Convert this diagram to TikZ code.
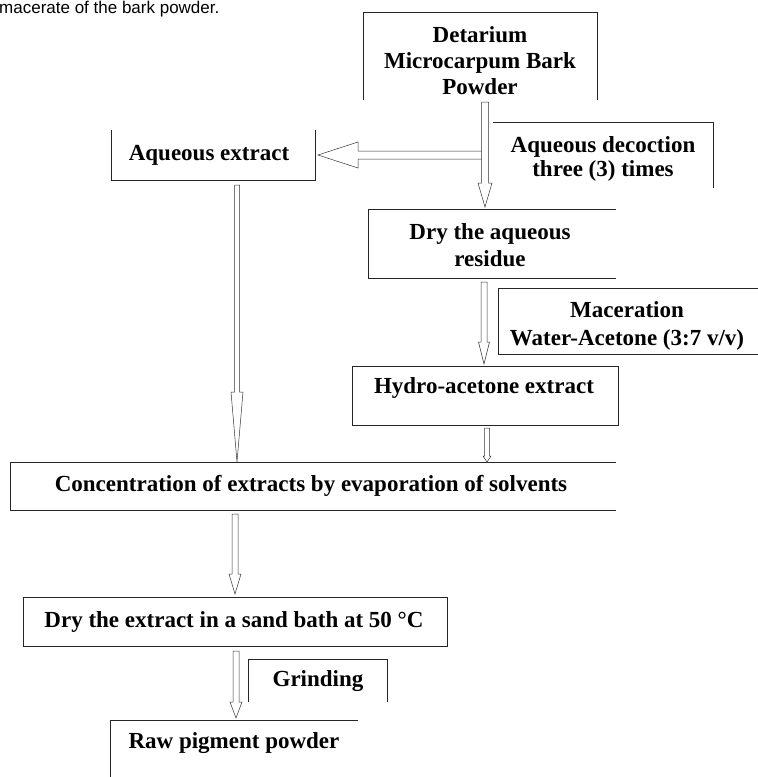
\documentclass[tikz,border=0pt]{standalone}
\usepackage{fontspec}
\setmainfont{Liberation Serif}
\newfontfamily\arialf{Liberation Sans}
\usetikzlibrary{calc}
% block arrow: #1 start, #2 tip, #3 half shaft, #4 half head, #5 head length
\newcommand\blockarr[5]{%
  \path ($(#2)!#5pt!(#1)$) coordinate (bh);
  \draw[arrowline] ($(#1)!#3pt!90:(#2)$) -- ($(bh)!#3pt!90:(#2)$) -- ($(bh)!#4pt!90:(#2)$) -- (#2)
    -- ($(bh)!#4pt!-90:(#2)$) -- ($(bh)!#3pt!-90:(#2)$) -- ($(#1)!#3pt!-90:(#2)$) -- cycle;
}
\begin{document}
\begin{tikzpicture}[x=1pt,y=-1pt,
  frame/.style={inner sep=0pt,outer sep=0pt},
  lbl/.style={inner sep=0pt,align=center,font=\bfseries\fontsize{23}{26}\selectfont},
  edge/.style={line width=0.7pt,draw=black!85},
  arrowline/.style={line width=0.5pt,draw=black!80,fill=white,line join=miter}]
\useasboundingbox (0,0) rectangle (758,777);

\node[anchor=base west,inner sep=0pt,font=\arialf\fontsize{17}{20}\selectfont] (top) at (-1,13) {macerate of the bark powder.};

% frames
\node[frame,minimum width=234pt,minimum height=88pt] (det) at (480,56) {};
\node[frame,minimum width=204pt,minimum height=50pt] (aqx) at (213,155) {};
\node[frame,minimum width=220pt,minimum height=66pt] (dec) at (603,155) {};
\node[frame,minimum width=248pt,minimum height=69pt] (dry) at (492,243.5) {};
\node[frame,minimum width=260pt,minimum height=66pt] (mac) at (628,321) {};
\node[frame,minimum width=266pt,minimum height=59pt] (hyd) at (485,395.5) {};
\node[frame,minimum width=606pt,minimum height=48pt] (con) at (313,486) {};
\node[frame,minimum width=424pt,minimum height=49pt] (dse) at (235,621.5) {};
\node[frame,minimum width=139pt,minimum height=43pt] (gri) at (317.5,680.5) {};
\node[frame,minimum width=248pt,minimum height=70pt] (raw) at (234,755) {};

\draw[edge] (det.south west) -- (det.north west) -- (det.north east) -- (det.south east);
\draw[edge] (aqx.north west) -- (aqx.south west) -- (aqx.south east) -- (aqx.north east);
\draw[edge] (dec.north west) -- (dec.north east) -- (dec.south east);
\draw[edge] (dry.north east) -- (dry.north west) -- (dry.south west) -- (dry.south east);
\draw[edge] (mac.north east) -- (mac.north west) -- (mac.south west) -- (mac.south east);
\draw[edge] (hyd.north west) rectangle (hyd.south east);
\draw[edge] (con.north east) -- (con.north west) -- (con.south west) -- (con.south east);
\draw[edge] (dse.north west) rectangle (dse.south east);
\draw[edge] (gri.south west) -- (gri.north west) -- (gri.north east) -- (gri.south east);
\draw[edge] (raw.north east) -- (raw.north west) -- (raw.south west);

% labels
\node[lbl] (det-t) at (480,61) {Detarium\\Microcarpum Bark\\Powder};
\node[lbl] (aqx-t) at (209,155) {Aqueous extract};
\node[lbl,font=\bfseries\fontsize{23}{24}\selectfont] (dec-t) at (603,159) {Aqueous decoction\\three (3) times};
\node[lbl,font=\bfseries\fontsize{23}{27}\selectfont] (dry-t) at (490,245) {Dry the aqueous\\residue};
\node[lbl,font=\bfseries\fontsize{23}{28}\selectfont] (mac-t) at (627,326) {Maceration\\Water-Acetone (3:7 v/v)};
\node[lbl] (hyd-t) at (484,388) {Hydro-acetone extract};
\node[lbl] (con-t) at (311,486) {Concentration of extracts by evaporation of solvents};
\node[lbl] (dse-t) at (234,622) {Dry the extract in a sand bath at 50 °C};
\node[lbl] (gri-t) at (318,681) {Grinding};
\node[lbl] (raw-t) at (234,743) {Raw pigment powder};

% arrow end points
\coordinate (a1s) at ($(det.south)+(5,2)$);
\coordinate (a1e) at ($(dry.north)+(-7,-2)$);
\coordinate (a2s) at (a1s |- aqx.east);
\coordinate (a2e) at ($(aqx.east)+(3,0)$);
\coordinate (a3s) at ($(dry.south)+(-8,4)$);
\coordinate (a3e) at ($(hyd.north)+(-1,-2)$);
\coordinate (a4s) at ($(aqx.south)+(24,5)$);
\coordinate (a4e) at (a4s |- con.north);
\coordinate (a5s) at ($(hyd.south)+(2,3)$);
\coordinate (a5e) at (a5s |- con.north);
\coordinate (a6s) at ($(con.south)+(-78,4)$);
\coordinate (a6e) at ($(a6s |- dse.north)+(0,-3)$);
\coordinate (a7s) at ($(dse.south)+(1,5)$);
\coordinate (a7e) at ($(a7s |- raw.north)+(0,-2)$);

\blockarr{a2s}{a2e}{4}{13}{40}
\blockarr{a1s}{a1e}{3.5}{7}{24}
\blockarr{a3s}{a3e}{3}{5.5}{22}
\blockarr{a4s}{a4e}{2.5}{6}{70}
\blockarr{a5s}{a5e}{2.5}{4}{6}
\blockarr{a6s}{a6e}{3}{6}{20}
\blockarr{a7s}{a7e}{3}{6}{16}
\end{tikzpicture}
\end{document}
